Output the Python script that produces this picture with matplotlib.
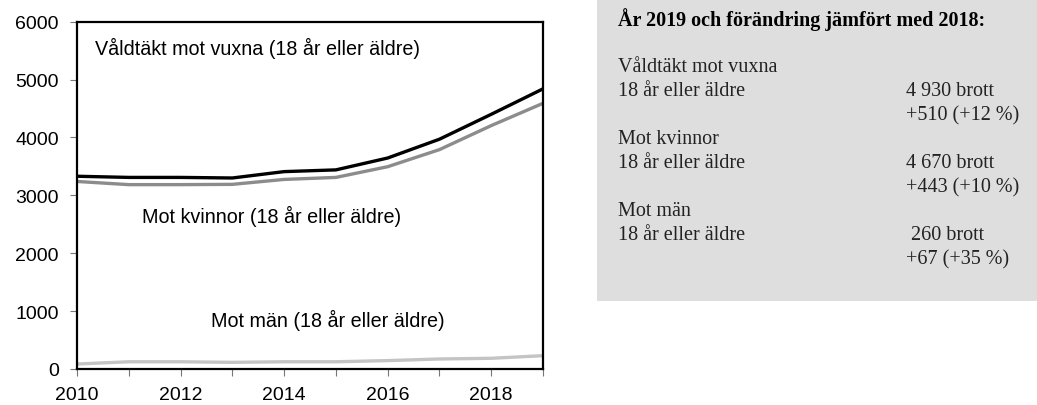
import matplotlib.pyplot as plt
from matplotlib.patches import Rectangle

years = list(range(2010, 2020))
vuxna = [3330, 3310, 3310, 3300, 3410, 3440, 3645, 3970, 4400, 4840]
kvinnor = [3240, 3185, 3185, 3190, 3275, 3310, 3495, 3790, 4205, 4590]
man = [86, 125, 125, 115, 125, 125, 145, 173, 185, 230]

series_labels = ["Våldtäkt mot vuxna (18 år eller äldre)",
                 "Mot kvinnor (18 år eller äldre)",
                 "Mot män (18 år eller äldre)"]

box_title = "År 2019 och förändring jämfört med 2018:"
box_rows = [
    ("Våldtäkt mot vuxna", "18 år eller äldre", "4 930 brott", "+510 (+12 %)"),
    ("Mot kvinnor", "18 år eller äldre", "4 670 brott", "+443 (+10 %)"),
    ("Mot män", "18 år eller äldre", " 260 brott", "+67 (+35 %)"),
]

W, H = 1037, 406
fig = plt.figure(figsize=(W / 100, H / 100), dpi=100)
ax = fig.add_axes([77 / W, 1 - 370 / H, (543 - 77) / W, (370 - 22.7) / H])

sans = "Liberation Sans"
ax.plot(years, kvinnor, color="#8c8c8c", lw=2.4, solid_capstyle="butt")
ax.plot(years, vuxna, color="black", lw=2.4, solid_capstyle="butt")
ax.plot(years, man, color="#c4c4c4", lw=2.4, solid_capstyle="butt")

ax.set_xlim(2010, 2019)
ax.set_ylim(0, 6000)
ax.set_xticks(years)
ax.set_xticklabels([str(y) if y % 2 == 0 else "" for y in years])
ax.set_yticks(range(0, 6001, 1000))
for s in ax.spines.values():
    s.set_linewidth(1.6)
ax.tick_params(axis="both", length=5, width=0.8, color="#777777",
               labelsize=14)
ax.tick_params(axis="x", pad=7)
ax.tick_params(axis="y", pad=8)
for lab in ax.get_xticklabels() + ax.get_yticklabels():
    lab.set_fontfamily(sans)


def place(txt, px, py):
    # position given in figure pixels measured from the top
    ax.annotate(txt, xy=(px, H - py), xycoords="figure pixels",
                fontsize=14.2, family=sans, va="center", ha="left")


place(series_labels[0], 95, 48)
place(series_labels[1], 142, 216)
place(series_labels[2], 211, 320)

# right info box
fig.patches.append(Rectangle((597 / W, 1 - 302 / H), 1 - 597 / W, 302 / H,
                             transform=fig.transFigure, facecolor="#dedede",
                             edgecolor="none", zorder=0))
serif = "Liberation Serif"
fs = 14.5
fig.text(618 / W, 1 - 20 / H, box_title, family=serif, fontsize=fs,
         weight="bold", va="center")
y = 68
for name, age, count, change in box_rows:
    fig.text(618 / W, 1 - y / H, name, family=serif, fontsize=fs,
             va="center", color="#222222")
    fig.text(618 / W, 1 - (y + 24) / H, age, family=serif, fontsize=fs,
             va="center", color="#222222")
    fig.text(906 / W, 1 - (y + 24) / H, count, family=serif, fontsize=fs,
             va="center", color="#222222")
    fig.text(906 / W, 1 - (y + 48) / H, change, family=serif, fontsize=fs,
             va="center", color="#222222")
    y += 72

fig.savefig("out.png", dpi=100)
